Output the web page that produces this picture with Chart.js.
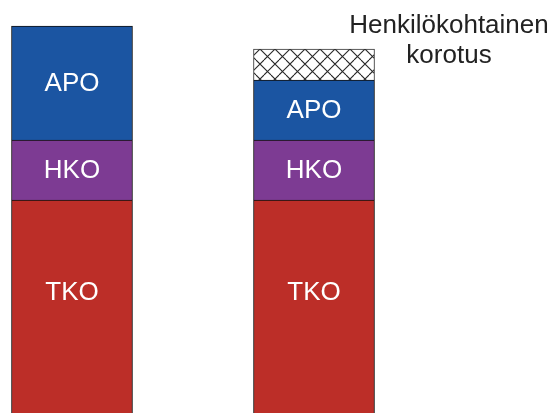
<!DOCTYPE html>
<html>
<head>
<meta charset="utf-8">
<script src="https://cdn.jsdelivr.net/npm/chart.js@4"></script>
<style>
  html, body { margin: 0; padding: 0; background: #fff; }
  #wrap { width: 554px; height: 413px; }
</style>
</head>
<body>
<div id="wrap"><canvas id="chart"></canvas></div>
<script>
// bar positions on the x axis (0 = nykytila, 1 = uusi)
const positions = [0, 1];
const tko = [213, 213];
const hko = [60, 60];
const apo = [114, 60];
const korotus = [0, 31];
const noteLines = ["Henkilökohtainen", "korotus"];

// cross hatch, 15px tile
function hatch() {
  const s = 15;
  const c = document.createElement("canvas");
  c.width = s;
  c.height = s;
  const g = c.getContext("2d");
  g.fillStyle = "#fff";
  g.fillRect(0, 0, s, s);
  g.strokeStyle = "#2a2a2a";
  g.lineWidth = 1.1;
  g.beginPath();
  [-s, 0, s].forEach(k => {
    const a = 1 + k, b = 9 + k;
    g.moveTo(a, 0); g.lineTo(a + s, s);
    g.moveTo(b, 0); g.lineTo(b - s, s);
  });
  g.stroke();
  return g.createPattern(c, "repeat");
}

function series(label, values, color, extra) {
  return Object.assign({
    label,
    data: positions.map((x, i) => ({ x, y: values[i] })),
    backgroundColor: color,
    borderColor: "#111",
    borderWidth: 1,
    barThickness: 121
  }, extra || {});
}

const barLabels = {
  id: "barLabels",
  afterDatasetsDraw(chart) {
    const ctx = chart.ctx;
    ctx.save();
    ctx.font = "26px 'Liberation Sans', Arial, sans-serif";
    ctx.textAlign = "center";
    ctx.textBaseline = "middle";
    ctx.fillStyle = "#fff";
    chart.data.datasets.forEach((ds, di) => {
      if (!ds.inside) return;
      chart.getDatasetMeta(di).data.forEach(el => {
        const mid = (el.y + el.base) / 2 + (ds.labelDy || 0) + 1;
        ctx.fillText(ds.label, el.x, mid);
      });
    });
    // note beside the raised part
    const el = chart.getDatasetMeta(3).data[1];
    ctx.fillStyle = "#222";
    ctx.textBaseline = "alphabetic";
    noteLines.forEach((t, i) => ctx.fillText(t, el.x + 135, el.y - 16 + i * 30));
    ctx.restore();
  }
};

new Chart(document.getElementById("chart"), {
  type: "bar",
  data: {
    datasets: [
      series("TKO", tko, "#bc2e28", { inside: true, labelDy: -15 }),
      series("HKO", hko, "#7d3b93", { inside: true }),
      series("APO", apo, "#1b55a2", { inside: true }),
      series("korotus", korotus, hatch(), { borderColor: "#333" })
    ]
  },
  options: {
    responsive: true,
    maintainAspectRatio: false,
    animation: false,
    layout: { padding: 0 },
    plugins: {
      legend: { display: false },
      tooltip: { enabled: false }
    },
    scales: {
      x: { type: "linear", stacked: true, display: false, min: -0.2975, max: 1.9917, offset: false },
      y: { stacked: true, display: false, min: 0, max: 413 }
    }
  },
  plugins: [barLabels]
});
</script>
</body>
</html>
